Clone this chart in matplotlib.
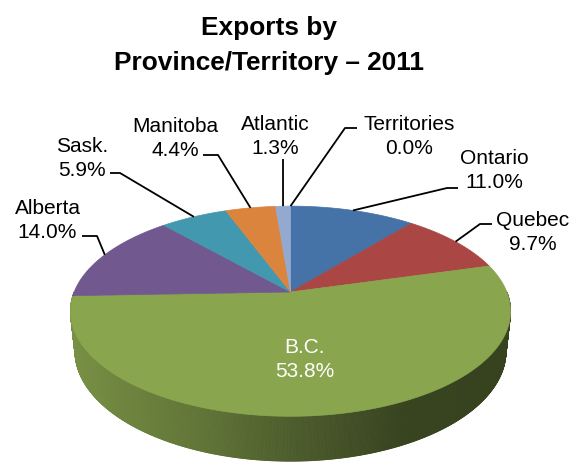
import numpy as np
import matplotlib
matplotlib.use("Agg")
import matplotlib.pyplot as plt
from matplotlib.collections import PolyCollection
from matplotlib.colors import to_rgb

# ---- data -------------------------------------------------------------
regions = ["Ontario", "Quebec", "B.C.", "Alberta", "Sask.", "Manitoba",
           "Atlantic", "Territories"]
shares = [11.0, 9.7, 53.8, 14.0, 5.9, 4.4, 1.3, 0.0]
slice_colors = ["#4572A7", "#AA4643", "#89A54E", "#71588F", "#4198AF",
                "#DB843D", "#93A9CF", "#D19392"]
title_lines = ["Exports by", "Province/Territory \u2013 2011"]

# ---- label layout (pixel space): centre x, first baseline, leader path --
label_layout = {
    "Ontario":     (494, 164, [(458, 189), (447, 189)]),
    "Quebec":      (533, 226, [(492, 225), (480, 225)]),
    "B.C.":        (305, 353, None),
    "Alberta":     (47.5, 214, [(82, 237), (97, 237)]),
    "Sask.":       (82, 152, [(110, 174), (120, 174)]),
    "Manitoba":    (175, 132, [(203, 156), (218, 156)]),
    "Atlantic":    (275, 130, [(283, 160)]),
    "Territories": (409, 130, [(357, 129), (345, 129)]),
}

W, H = 582, 464
fig = plt.figure(figsize=(W / 100, H / 100), dpi=100)
ax = fig.add_axes([0, 0, 1, 1])
ax.set_xlim(0, W)
ax.set_ylim(H, 0)
ax.axis("off")

FONT = "Liberation Sans"

# ---- perspective camera for a tilted disc ------------------------------
ELEV = np.radians(28)
DIST = 4.83
FOCAL = 1045
THICK = 0.21
CX, CY = 290.5, 293


def project(phi, r=1.0, z=0.0):
    """phi measured clockwise from the far (top) point of the disc."""
    phi = np.asarray(phi, dtype=float)
    x = r * np.sin(phi)
    y = r * np.cos(phi)
    c, s = np.cos(ELEV), np.sin(ELEV)
    depth = DIST + y * c - z * s
    sx = FOCAL * x / depth
    sy = FOCAL * (y * s + z * c) / depth
    return CX + sx, CY - sy


vals = np.array(shares, dtype=float)
bounds = np.concatenate([[0.0], np.cumsum(vals)]) / vals.sum() * 2 * np.pi
mids = 0.5 * (bounds[:-1] + bounds[1:])


def slice_at(phi):
    idx = np.searchsorted(bounds, phi, side="right") - 1
    return int(np.clip(idx, 0, len(vals) - 1))


# ---- front wall with horizontal shading -------------------------------
shade_x = [70, 110, 200, 290, 400, 515]
shade_f = [0.88, 0.82, 0.71, 0.56, 0.41, 0.40]
phis = np.linspace(np.pi / 2, 3 * np.pi / 2, 700)
quads, qcols = [], []
for a, b in zip(phis[:-1], phis[1:]):
    xt0, yt0 = project(a)
    xt1, yt1 = project(b)
    xb0, yb0 = project(a, z=-THICK)
    xb1, yb1 = project(b, z=-THICK)
    quads.append([(xt0, yt0), (xt1, yt1), (xb1, yb1), (xb0, yb0)])
    base = np.array(to_rgb(slice_colors[slice_at(0.5 * (a + b))]))
    f = np.interp(0.25 * (xt0 + xt1 + xb0 + xb1), shade_x, shade_f)
    qcols.append(tuple(base * f))
ax.add_collection(PolyCollection(quads, facecolors=qcols, edgecolors=qcols,
                                 linewidths=0.6, antialiased=True))

# ---- top face ---------------------------------------------------------
apex = project(0.0, r=0.0)
for i, (v, col) in enumerate(zip(vals, slice_colors)):
    if v <= 0:
        continue
    t = np.linspace(bounds[i], bounds[i + 1], max(4, int(v * 8)))
    px, py = project(t)
    poly = np.column_stack([np.r_[apex[0], px], np.r_[apex[1], py]])
    ax.fill(poly[:, 0], poly[:, 1], facecolor=col, edgecolor=col,
            linewidth=0.5, zorder=3)

# ---- labels and leader lines -----------------------------------------
for i, name in enumerate(regions):
    cx, b1, leader = label_layout[name]
    color = "white" if name == "B.C." else "black"
    ax.text(cx, b1, name, ha="center", va="baseline", fontsize=15,
            family=FONT, color=color, zorder=6)
    ax.text(cx, b1 + 24.5, f"{shares[i]:.1f}%", ha="center", va="baseline",
            fontsize=15, family=FONT, color=color, zorder=6)
    if leader:
        ex, ey = project(mids[i])
        pts = leader + [(float(ex), float(ey))]
        ax.plot([p[0] for p in pts], [p[1] for p in pts], color="black",
                lw=1.3, solid_capstyle="butt", zorder=5)

# ---- title ------------------------------------------------------------
ax.text(269, 35, title_lines[0], ha="center", va="baseline", fontsize=18.9,
        fontweight="bold", family=FONT, zorder=6)
ax.text(269, 70, title_lines[1], ha="center", va="baseline", fontsize=18.9,
        fontweight="bold", family=FONT, zorder=6)

fig.savefig("out.png", dpi=100)
